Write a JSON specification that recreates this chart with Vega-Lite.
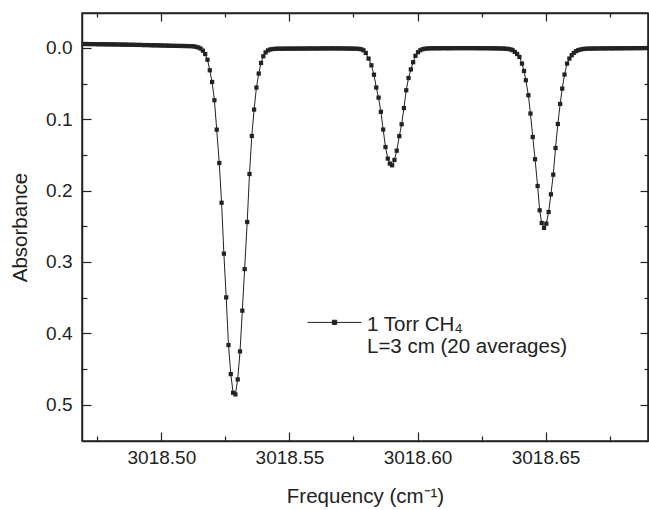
{
  "$schema": "https://vega.github.io/schema/vega-lite/v6.json",
  "width": 566,
  "height": 428,
  "autosize": {"type": "none"},
  "padding": {"left": 82, "top": 13, "right": 1, "bottom": 69},
  "config": {
    "view": {"stroke": "#222", "strokeWidth": 1.5},
    "font": "Liberation Sans",
    "axis": {
      "domainColor": "#222",
      "domainWidth": 1.5,
      "tickColor": "#222",
      "tickWidth": 1.2,
      "labelFont": "Liberation Sans",
      "labelFontSize": 19,
      "labelColor": "#222",
      "titleFont": "Liberation Sans",
      "titleFontSize": 20.5,
      "titleFontWeight": "normal",
      "titleColor": "#222",
      "grid": false,
      "labelOverlap": false,
      "labelFlush": false
    }
  },
  "data": {
    "values": [
      {"freq": 3018.4698, "abs": -0.0055}, {"freq": 3018.4707, "abs": -0.0056}, {"freq": 3018.4716, "abs": -0.0054},
      {"freq": 3018.4725, "abs": -0.0055}, {"freq": 3018.4734, "abs": -0.0053}, {"freq": 3018.4744, "abs": -0.0054},
      {"freq": 3018.4753, "abs": -0.0052}, {"freq": 3018.4762, "abs": -0.0053}, {"freq": 3018.4771, "abs": -0.0051},
      {"freq": 3018.4780, "abs": -0.0052}, {"freq": 3018.4789, "abs": -0.0050}, {"freq": 3018.4798, "abs": -0.0051},
      {"freq": 3018.4807, "abs": -0.0049}, {"freq": 3018.4816, "abs": -0.0050}, {"freq": 3018.4825, "abs": -0.0048},
      {"freq": 3018.4835, "abs": -0.0049}, {"freq": 3018.4844, "abs": -0.0047}, {"freq": 3018.4853, "abs": -0.0046},
      {"freq": 3018.4862, "abs": -0.0047}, {"freq": 3018.4871, "abs": -0.0045}, {"freq": 3018.4880, "abs": -0.0044},
      {"freq": 3018.4889, "abs": -0.0045}, {"freq": 3018.4898, "abs": -0.0043}, {"freq": 3018.4907, "abs": -0.0042},
      {"freq": 3018.4916, "abs": -0.0043}, {"freq": 3018.4926, "abs": -0.0041}, {"freq": 3018.4935, "abs": -0.0040},
      {"freq": 3018.4944, "abs": -0.0041}, {"freq": 3018.4953, "abs": -0.0039}, {"freq": 3018.4962, "abs": -0.0038},
      {"freq": 3018.4971, "abs": -0.0037}, {"freq": 3018.4980, "abs": -0.0038}, {"freq": 3018.4989, "abs": -0.0036},
      {"freq": 3018.4998, "abs": -0.0035}, {"freq": 3018.5007, "abs": -0.0034}, {"freq": 3018.5017, "abs": -0.0033},
      {"freq": 3018.5026, "abs": -0.0032}, {"freq": 3018.5035, "abs": -0.0031}, {"freq": 3018.5044, "abs": -0.0030},
      {"freq": 3018.5053, "abs": -0.0029}, {"freq": 3018.5062, "abs": -0.0029}, {"freq": 3018.5071, "abs": -0.0028},
      {"freq": 3018.5080, "abs": -0.0028}, {"freq": 3018.5089, "abs": -0.0027}, {"freq": 3018.5098, "abs": -0.0027},
      {"freq": 3018.5107, "abs": -0.0026}, {"freq": 3018.5117, "abs": -0.0025}, {"freq": 3018.5126, "abs": -0.0022},
      {"freq": 3018.5135, "abs": -0.0016}, {"freq": 3018.5144, "abs": -0.0007}, {"freq": 3018.5153, "abs": 0.0008},
      {"freq": 3018.5162, "abs": 0.0038},
      {"freq": 3018.5171, "abs": 0.0085}, {"freq": 3018.5180, "abs": 0.0165}, {"freq": 3018.5189, "abs": 0.0313},
      {"freq": 3018.5198, "abs": 0.0477}, {"freq": 3018.5207, "abs": 0.0733}, {"freq": 3018.5216, "abs": 0.1145},
      {"freq": 3018.5226, "abs": 0.1613}, {"freq": 3018.5235, "abs": 0.2170}, {"freq": 3018.5244, "abs": 0.2884},
      {"freq": 3018.5253, "abs": 0.3497}, {"freq": 3018.5262, "abs": 0.4165}, {"freq": 3018.5271, "abs": 0.4572},
      {"freq": 3018.5280, "abs": 0.4833}, {"freq": 3018.5289, "abs": 0.4857}, {"freq": 3018.5298, "abs": 0.4647},
      {"freq": 3018.5307, "abs": 0.4254}, {"freq": 3018.5316, "abs": 0.3683}, {"freq": 3018.5325, "abs": 0.3100},
      {"freq": 3018.5335, "abs": 0.2440}, {"freq": 3018.5344, "abs": 0.1767}, {"freq": 3018.5353, "abs": 0.1234},
      {"freq": 3018.5362, "abs": 0.0864}, {"freq": 3018.5371, "abs": 0.0555}, {"freq": 3018.5380, "abs": 0.0359},
      {"freq": 3018.5389, "abs": 0.0210}, {"freq": 3018.5398, "abs": 0.0116}, {"freq": 3018.5407, "abs": 0.0062},
      {"freq": 3018.5416, "abs": 0.0034}, {"freq": 3018.5425, "abs": 0.0021}, {"freq": 3018.5434, "abs": 0.0015},
      {"freq": 3018.5444, "abs": 0.0012}, {"freq": 3018.5453, "abs": 0.0011}, {"freq": 3018.5462, "abs": 0.0010},
      {"freq": 3018.5471, "abs": 0.0011}, {"freq": 3018.5480, "abs": 0.0010}, {"freq": 3018.5489, "abs": 0.0009},
      {"freq": 3018.5498, "abs": 0.0010}, {"freq": 3018.5507, "abs": 0.0009}, {"freq": 3018.5516, "abs": 0.0010},
      {"freq": 3018.5525, "abs": 0.0009}, {"freq": 3018.5535, "abs": 0.0008}, {"freq": 3018.5544, "abs": 0.0009},
      {"freq": 3018.5553, "abs": 0.0008}, {"freq": 3018.5562, "abs": 0.0009}, {"freq": 3018.5571, "abs": 0.0008},
      {"freq": 3018.5580, "abs": 0.0007}, {"freq": 3018.5589, "abs": 0.0008}, {"freq": 3018.5598, "abs": 0.0007},
      {"freq": 3018.5607, "abs": 0.0008}, {"freq": 3018.5616, "abs": 0.0007}, {"freq": 3018.5626, "abs": 0.0006},
      {"freq": 3018.5635, "abs": 0.0007}, {"freq": 3018.5644, "abs": 0.0006}, {"freq": 3018.5653, "abs": 0.0007},
      {"freq": 3018.5662, "abs": 0.0006}, {"freq": 3018.5671, "abs": 0.0006}, {"freq": 3018.5680, "abs": 0.0007},
      {"freq": 3018.5689, "abs": 0.0006}, {"freq": 3018.5698, "abs": 0.0007}, {"freq": 3018.5707, "abs": 0.0007},
      {"freq": 3018.5717, "abs": 0.0008}, {"freq": 3018.5726, "abs": 0.0008}, {"freq": 3018.5735, "abs": 0.0009},
      {"freq": 3018.5744, "abs": 0.0009}, {"freq": 3018.5753, "abs": 0.0010}, {"freq": 3018.5762, "abs": 0.0011},
      {"freq": 3018.5771, "abs": 0.0013}, {"freq": 3018.5780, "abs": 0.0018},
      {"freq": 3018.5789, "abs": 0.0032}, {"freq": 3018.5798, "abs": 0.0070}, {"freq": 3018.5809, "abs": 0.0149},
      {"freq": 3018.5820, "abs": 0.0243}, {"freq": 3018.5830, "abs": 0.0375}, {"freq": 3018.5839, "abs": 0.0555},
      {"freq": 3018.5848, "abs": 0.0696}, {"freq": 3018.5857, "abs": 0.0895}, {"freq": 3018.5866, "abs": 0.1144},
      {"freq": 3018.5875, "abs": 0.1389}, {"freq": 3018.5884, "abs": 0.1551}, {"freq": 3018.5892, "abs": 0.1621},
      {"freq": 3018.5901, "abs": 0.1645}, {"freq": 3018.5910, "abs": 0.1570}, {"freq": 3018.5919, "abs": 0.1440},
      {"freq": 3018.5929, "abs": 0.1236}, {"freq": 3018.5938, "abs": 0.1070}, {"freq": 3018.5947, "abs": 0.0843},
      {"freq": 3018.5956, "abs": 0.0593}, {"freq": 3018.5965, "abs": 0.0421}, {"freq": 3018.5974, "abs": 0.0301},
      {"freq": 3018.5983, "abs": 0.0200}, {"freq": 3018.5992, "abs": 0.0110}, {"freq": 3018.6002, "abs": 0.0060},
      {"freq": 3018.6011, "abs": 0.0032}, {"freq": 3018.6020, "abs": 0.0018}, {"freq": 3018.6029, "abs": 0.0011},
      {"freq": 3018.6038, "abs": 0.0008}, {"freq": 3018.6047, "abs": 0.0006}, {"freq": 3018.6056, "abs": 0.0005},
      {"freq": 3018.6065, "abs": 0.0005}, {"freq": 3018.6074, "abs": 0.0004}, {"freq": 3018.6083, "abs": 0.0005},
      {"freq": 3018.6092, "abs": 0.0004}, {"freq": 3018.6102, "abs": 0.0003}, {"freq": 3018.6111, "abs": 0.0004},
      {"freq": 3018.6120, "abs": 0.0003}, {"freq": 3018.6129, "abs": 0.0004}, {"freq": 3018.6138, "abs": 0.0003},
      {"freq": 3018.6147, "abs": 0.0002}, {"freq": 3018.6156, "abs": 0.0003}, {"freq": 3018.6165, "abs": 0.0002},
      {"freq": 3018.6174, "abs": 0.0003}, {"freq": 3018.6183, "abs": 0.0002}, {"freq": 3018.6193, "abs": 0.0003},
      {"freq": 3018.6202, "abs": 0.0002}, {"freq": 3018.6211, "abs": 0.0003}, {"freq": 3018.6220, "abs": 0.0002},
      {"freq": 3018.6229, "abs": 0.0003}, {"freq": 3018.6238, "abs": 0.0003}, {"freq": 3018.6247, "abs": 0.0004},
      {"freq": 3018.6256, "abs": 0.0003}, {"freq": 3018.6265, "abs": 0.0004}, {"freq": 3018.6274, "abs": 0.0004},
      {"freq": 3018.6284, "abs": 0.0005}, {"freq": 3018.6293, "abs": 0.0005}, {"freq": 3018.6302, "abs": 0.0006},
      {"freq": 3018.6311, "abs": 0.0006}, {"freq": 3018.6320, "abs": 0.0007}, {"freq": 3018.6329, "abs": 0.0008},
      {"freq": 3018.6338, "abs": 0.0009}, {"freq": 3018.6347, "abs": 0.0011}, {"freq": 3018.6356, "abs": 0.0015},
      {"freq": 3018.6364, "abs": 0.0021},
      {"freq": 3018.6371, "abs": 0.0031}, {"freq": 3018.6380, "abs": 0.0056}, {"freq": 3018.6389, "abs": 0.0085},
      {"freq": 3018.6398, "abs": 0.0126}, {"freq": 3018.6408, "abs": 0.0219}, {"freq": 3018.6416, "abs": 0.0323},
      {"freq": 3018.6423, "abs": 0.0453}, {"freq": 3018.6433, "abs": 0.0663}, {"freq": 3018.6441, "abs": 0.0920},
      {"freq": 3018.6450, "abs": 0.1248}, {"freq": 3018.6459, "abs": 0.1560}, {"freq": 3018.6469, "abs": 0.1935},
      {"freq": 3018.6477, "abs": 0.2276}, {"freq": 3018.6485, "abs": 0.2454}, {"freq": 3018.6494, "abs": 0.2522},
      {"freq": 3018.6503, "abs": 0.2463}, {"freq": 3018.6512, "abs": 0.2300}, {"freq": 3018.6521, "abs": 0.2052},
      {"freq": 3018.6530, "abs": 0.1776}, {"freq": 3018.6539, "abs": 0.1403}, {"freq": 3018.6548, "abs": 0.1066},
      {"freq": 3018.6557, "abs": 0.0785}, {"freq": 3018.6565, "abs": 0.0570}, {"freq": 3018.6574, "abs": 0.0373},
      {"freq": 3018.6584, "abs": 0.0219}, {"freq": 3018.6593, "abs": 0.0149}, {"freq": 3018.6602, "abs": 0.0102},
      {"freq": 3018.6610, "abs": 0.0070}, {"freq": 3018.6619, "abs": 0.0046}, {"freq": 3018.6628, "abs": 0.0031},
      {"freq": 3018.6637, "abs": 0.0021}, {"freq": 3018.6646, "abs": 0.0015},
      {"freq": 3018.6655, "abs": 0.0012}, {"freq": 3018.6664, "abs": 0.0010}, {"freq": 3018.6673, "abs": 0.0009},
      {"freq": 3018.6682, "abs": 0.0008}, {"freq": 3018.6691, "abs": 0.0008}, {"freq": 3018.6700, "abs": 0.0007},
      {"freq": 3018.6710, "abs": 0.0007}, {"freq": 3018.6719, "abs": 0.0006}, {"freq": 3018.6728, "abs": 0.0007},
      {"freq": 3018.6737, "abs": 0.0006}, {"freq": 3018.6746, "abs": 0.0005}, {"freq": 3018.6755, "abs": 0.0006},
      {"freq": 3018.6764, "abs": 0.0005}, {"freq": 3018.6773, "abs": 0.0005}, {"freq": 3018.6782, "abs": 0.0004},
      {"freq": 3018.6791, "abs": 0.0005}, {"freq": 3018.6800, "abs": 0.0004}, {"freq": 3018.6810, "abs": 0.0004},
      {"freq": 3018.6819, "abs": 0.0003}, {"freq": 3018.6828, "abs": 0.0004}, {"freq": 3018.6837, "abs": 0.0003},
      {"freq": 3018.6846, "abs": 0.0003}, {"freq": 3018.6855, "abs": 0.0002}, {"freq": 3018.6864, "abs": 0.0003},
      {"freq": 3018.6873, "abs": 0.0002}, {"freq": 3018.6882, "abs": 0.0002}, {"freq": 3018.6891, "abs": 0.0001},
      {"freq": 3018.6900, "abs": 0.0002}
    ]
  },
  "layer": [
    {
      "mark": {"type": "line", "strokeWidth": 1, "clip": true},
      "encoding": {
        "x": {
          "field": "freq", "type": "quantitative",
          "scale": {"domain": [3018.469, 3018.69], "nice": false, "zero": false},
          "axis": {
            "orient": "bottom",
            "title": "Frequency (cm⁻¹)",
            "titlePadding": 15,
            "values": [3018.475, 3018.5, 3018.525, 3018.55, 3018.575, 3018.6, 3018.625, 3018.65, 3018.675],
            "labelExpr": "round(datum.value * 1000) % 50 == 0 ? format(datum.value, '.2f') : ''",
            "tickSize": {"condition": {"test": "round(datum.value * 1000) % 50 == 0", "value": -9}, "value": -5},
            "labelPadding": 16
          }
        },
        "y": {
          "field": "abs", "type": "quantitative",
          "scale": {"domain": [-0.049, 0.551], "reverse": true, "nice": false, "zero": false},
          "axis": {
            "orient": "left",
            "title": "Absorbance",
            "titlePadding": 15,
            "values": [0, 0.05, 0.1, 0.15, 0.2, 0.25, 0.3, 0.35, 0.4, 0.45, 0.5],
            "labelExpr": "round(datum.value * 100) % 10 == 0 ? format(datum.value, '.1f') : ''",
            "tickSize": {"condition": {"test": "round(datum.value * 100) % 10 == 0", "value": -9}, "value": -5},
            "labelPadding": 19
          }
        },
        "color": {
          "datum": "1 Torr CH₄",
          "type": "nominal",
          "scale": {"range": ["#222"]},
          "legend": {
            "orient": "none",
            "legendX": 225,
            "legendY": 290,
            "title": null,
            "padding": 0,
            "symbolType": "M-1,-0.3H1M-0.08,-0.38H0.08V-0.22H-0.08Z",
            "symbolSize": 2916,
            "symbolStrokeWidth": 1,
            "symbolFillColor": "#222",
            "symbolStrokeColor": "#222",
            "labelFont": "Liberation Sans",
            "labelFontSize": 20.5,
            "labelColor": "#222",
            "labelOffset": 5,
            "labelBaseline": "alphabetic",
            "labelLineHeight": 20,
            "labelLimit": 400,
            "labelExpr": "[datum.label, 'L=3 cm (20 averages)']"
          }
        }
      }
    },
    {
      "mark": {"type": "point", "shape": "square", "size": 18, "filled": true, "opacity": 1, "clip": true},
      "encoding": {
        "x": {
          "field": "freq", "type": "quantitative",
          "scale": {"domain": [3018.469, 3018.69], "nice": false, "zero": false},
          "axis": {
            "orient": "top",
            "title": null,
            "values": [3018.475, 3018.5, 3018.525, 3018.55, 3018.575, 3018.6, 3018.625, 3018.65, 3018.675],
            "labels": false,
            "tickSize": {"condition": {"test": "round(datum.value * 1000) % 50 == 0", "value": -8}, "value": -4}
          }
        },
        "y": {
          "field": "abs", "type": "quantitative",
          "scale": {"domain": [-0.049, 0.551], "reverse": true, "nice": false, "zero": false},
          "axis": {
            "orient": "right",
            "title": null,
            "values": [0, 0.05, 0.1, 0.15, 0.2, 0.25, 0.3, 0.35, 0.4, 0.45, 0.5],
            "labels": false,
            "tickSize": {"condition": {"test": "round(datum.value * 100) % 10 == 0", "value": -8}, "value": -4}
          }
        },
        "color": {"datum": "1 Torr CH₄", "type": "nominal"}
      }
    }
  ],
  "resolve": {"axis": {"x": "independent", "y": "independent"}}
}
